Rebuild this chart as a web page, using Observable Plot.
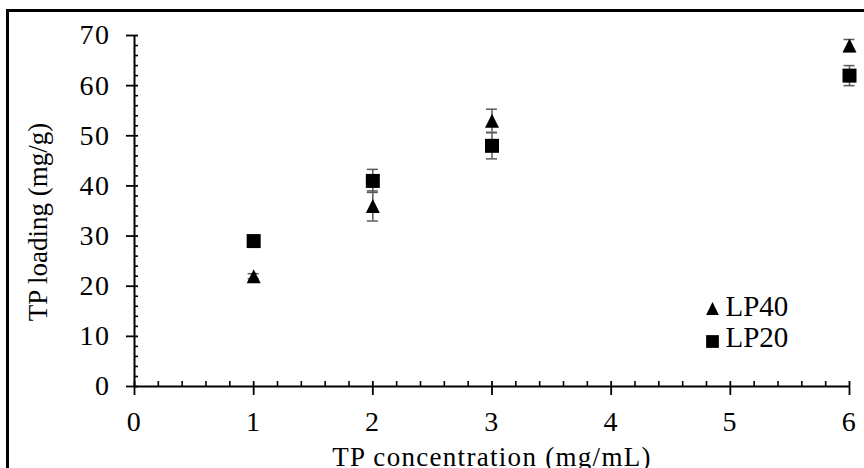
<!DOCTYPE html>
<html>
<head>
<meta charset="utf-8">
<script src="https://cdn.jsdelivr.net/npm/d3@7"></script>
<script src="https://cdn.jsdelivr.net/npm/@observablehq/plot@0.6"></script>
<style>
  html, body { margin: 0; padding: 0; background: #fff; overflow: hidden; }
  #wrap { position: relative; width: 864px; height: 468px; overflow: hidden; }
  #frame { position: absolute; left: 6px; top: 9px; width: 900px; height: 500px; border: 3.5px solid #000; box-sizing: border-box; pointer-events: none; }
  #chart { position: absolute; left: 0; top: 0; }
  [aria-description="tick labels"], [aria-description="tick labels"] text { letter-spacing: 1.5px; }
  [aria-description="x title"], [aria-description="x title"] text { letter-spacing: 1.3px; }
</style>
</head>
<body>
<div id="wrap"><div id="chart"></div><div id="frame"></div></div>
<script>
// ---- data ----
const concentrations = [1, 2, 3, 6];
const lp40Values = [22, 36, 53, 68];
const lp40Errors = [0.5, 3, 2.3, 1.2];
const lp20Values = [29, 41, 48, 62];
const lp20Errors = [0.5, 2.3, 2.6, 2];
const seriesNames = ["LP40", "LP20"];
const xTicks = [0, 1, 2, 3, 4, 5, 6];
const yTicks = [0, 10, 20, 30, 40, 50, 60, 70];
const xTitle = "TP concentration (mg/mL)";
const yTitle = "TP loading (mg/g)";

const rows = [];
concentrations.forEach((c, i) => {
  rows.push({series: "LP40", x: c, v: lp40Values[i], e: lp40Errors[i]});
  rows.push({series: "LP20", x: c, v: lp20Values[i], e: lp20Errors[i]});
});
const xMinor = d3.range(0, 6.0001, 0.2).filter(v => Math.abs(v - Math.round(v)) > 1e-6);
const yMinor = d3.range(0, 70.0001, 2).filter(v => v % 10 !== 0);

// Excel-like triangle (width == height)
const tri = {draw(ctx, size) { const s = Math.sqrt(size); ctx.moveTo(0, -s / 2); ctx.lineTo(s / 2, s / 2); ctx.lineTo(-s / 2, s / 2); ctx.closePath(); }};
const symbolOf = {LP40: tri, LP20: "square"};

const font = "'Liberation Serif', 'Times New Roman', serif";
const errColor = "#5a5a5a";

const chart = Plot.plot({
  width: 864,
  height: 468,
  marginLeft: 134,
  marginRight: 15,
  marginTop: 35,
  marginBottom: 82,
  x: {domain: [0, 6], axis: null},
  y: {domain: [0, 70], axis: null},
  style: {fontFamily: font, background: "transparent", color: "#000"},
  marks: [
    // axis lines
    Plot.ruleY([0], {stroke: "#000", strokeWidth: 2}),
    Plot.ruleX([0], {stroke: "#000", strokeWidth: 2}),
    // x ticks
    Plot.ruleX(xMinor, {x: d => d, y1: 0, y2: 0, insetTop: 0, insetBottom: 5, stroke: "#000", strokeWidth: 1.6}),
    Plot.ruleX(xTicks, {x: d => d, y1: 0, y2: 0, insetTop: 9, insetBottom: 5, stroke: "#000", strokeWidth: 1.8}),
    // y ticks
    Plot.ruleY(yMinor, {y: d => d, x1: 0, x2: 0, insetLeft: 0, insetRight: -4, stroke: "#000", strokeWidth: 1.6}),
    Plot.ruleY(yTicks, {y: d => d, x1: 0, x2: 0, insetLeft: -8, insetRight: -4, stroke: "#000", strokeWidth: 1.8}),
    // tick labels
    Plot.text(xTicks, {x: d => d, y: 0, text: d => String(d), dy: 36, lineAnchor: "middle", fontSize: 28, fill: "#000", ariaDescription: "tick labels"}),
    Plot.text(yTicks, {x: 0, y: d => d, text: d => String(d), dx: -24, textAnchor: "end", lineAnchor: "middle", fontSize: 28, fill: "#000", ariaDescription: "tick labels"}),
    // axis titles
    Plot.text([xTitle], {frameAnchor: "bottom", text: d => d, dy: 79, lineAnchor: "bottom", fontSize: 27, fill: "#000", ariaDescription: "x title"}),
    Plot.text([yTitle], {frameAnchor: "left", text: d => d, rotate: -90, dx: -88, dy: 11, textAnchor: "middle", lineAnchor: "bottom", fontSize: 27, fill: "#000"}),
    // error bars
    Plot.ruleX(rows, {x: "x", y1: d => d.v - d.e, y2: d => d.v + d.e, stroke: errColor, strokeWidth: 1.5}),
    Plot.ruleY(rows, {y: d => d.v - d.e, x1: "x", x2: "x", insetLeft: -5.5, insetRight: -5.5, stroke: errColor, strokeWidth: 1.5}),
    Plot.ruleY(rows, {y: d => d.v + d.e, x1: "x", x2: "x", insetLeft: -5.5, insetRight: -5.5, stroke: errColor, strokeWidth: 1.5}),
    // markers
    ...seriesNames.map(s => Plot.dot(rows.filter(d => d.series === s), {x: "x", y: "v", symbol: symbolOf[s], r: 7.9, fill: "#000", stroke: "none"})),
    // legend
    ...seriesNames.map((s, i) => Plot.dot([s], {frameAnchor: "top-left", dx: 578, dy: 273 + i * 33, symbol: symbolOf[s], r: 7.2, fill: "#000", stroke: "none"})),
    ...seriesNames.map((s, i) => Plot.text([s], {frameAnchor: "top-left", text: d => d, dx: 591, dy: 280 + i * 31, textAnchor: "start", lineAnchor: "bottom", fontSize: 29, fill: "#000"}))
  ]
});
document.getElementById("chart").appendChild(chart);
</script>
</body>
</html>
